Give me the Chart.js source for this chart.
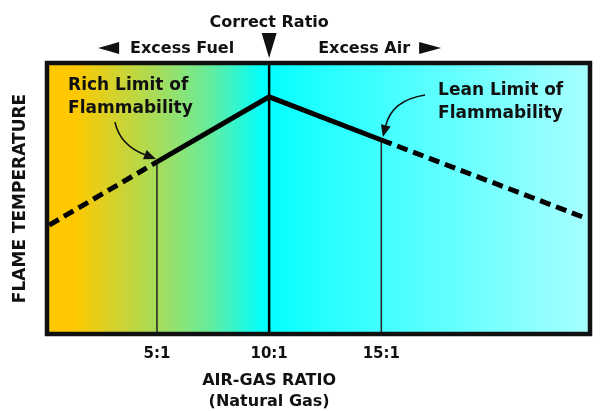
<!DOCTYPE html>
<html>
<head>
<meta charset="utf-8">
<script src="https://cdn.jsdelivr.net/npm/chart.js@4.4.1/dist/chart.umd.min.js"></script>
<style>
  html, body { margin: 0; padding: 0; background: #fff; }
  #wrap { width: 601px; height: 411px; }
</style>
</head>
<body>
<div id="wrap"><canvas id="flameChart"></canvas></div>
<script>
Chart.defaults.animation = false;
Chart.defaults.font.family = "'DejaVu Sans', sans-serif";

// ---- data ----
const ratioTicks = [5, 10, 15];
const curveX = [0.2, 5, 10, 15, 24.1];        // air-gas ratio
const curveY = [40.2, 63.5, 87.5, 71.6, 42.8]; // flame temperature (relative)
const dashedSegments = [0, 3];                 // segments outside flammability limits
const correctRatio = 10;

const curvePoints = curveX.map((x, i) => ({ x: x, y: curveY[i] }));

// vertical drop lines at the limits and the correct ratio
function dropAt(x, top) {
  return [{ x: x, y: 0 }, { x: x, y: top }];
}

const FONT = "bold 16px 'DejaVu Sans', sans-serif";

// annotation positions in data units
const notes = [
  { lines: ["Rich Limit of", "Flammability"], x: 1.04, y: 90.0,
    arrow: { from: [3.13, 78.2], ctrl: [3.35, 69.7], to: [4.96, 64.6] } },
  { lines: ["Lean Limit of", "Flammability"], x: 17.53, y: 88.2,
    arrow: { from: [16.95, 88.2], ctrl: [15.48, 86.3], to: [15.07, 72.7] } }
];

// ================= background gradient =================
const backdrop = {
  id: "backdrop",
  beforeDatasetsDraw(chart) {
    const { ctx, chartArea: a } = chart;
    const g = ctx.createLinearGradient(a.left, 0, a.right, 0);
    g.addColorStop(0, "#ffc800");
    g.addColorStop(0.05, "#ffc800");
    g.addColorStop(0.2, "#a8dc58");
    g.addColorStop(0.29, "#6eea94");
    g.addColorStop(0.4, "#00ffff");
    g.addColorStop(0.52, "#28ffff");
    g.addColorStop(1, "#a8ffff");
    ctx.save();
    ctx.fillStyle = g;
    ctx.fillRect(a.left, a.top, a.right - a.left, a.bottom - a.top);
    ctx.restore();
  }
};

// ================= frame, labels, arrows =================
function triangle(ctx, pts) {
  ctx.beginPath();
  ctx.moveTo(pts[0][0], pts[0][1]);
  ctx.lineTo(pts[1][0], pts[1][1]);
  ctx.lineTo(pts[2][0], pts[2][1]);
  ctx.closePath();
  ctx.fill();
}

const decorations = {
  id: "decorations",
  afterDraw(chart) {
    const { ctx, chartArea: a, scales: { x, y } } = chart;
    ctx.save();

    // frame
    ctx.strokeStyle = "#111";
    ctx.lineWidth = 4.5;
    ctx.strokeRect(a.left, a.top, a.right - a.left, a.bottom - a.top);

    ctx.fillStyle = "#111";
    ctx.font = FONT;
    const cx = x.getPixelForValue(correctRatio);

    // top labels
    ctx.textAlign = "center";
    ctx.textBaseline = "alphabetic";
    ctx.fillText("Correct Ratio", cx, a.top - 36);
    triangle(ctx, [[cx - 7.5, a.top - 30], [cx + 7.5, a.top - 30], [cx, a.top - 5]]);

    ctx.textAlign = "right";
    ctx.fillText("Excess Fuel", cx - 35, a.top - 10);
    triangle(ctx, [[cx - 150, a.top - 21], [cx - 150, a.top - 9], [cx - 171, a.top - 15]]);

    ctx.textAlign = "left";
    ctx.fillText("Excess Air", cx + 49, a.top - 10);
    triangle(ctx, [[cx + 150, a.top - 21], [cx + 150, a.top - 9], [cx + 172, a.top - 15]]);

    // axis title under the correct ratio
    ctx.textAlign = "center";
    ctx.fillText("AIR-GAS RATIO", cx, a.bottom + 51);
    ctx.fillText("(Natural Gas)", cx, a.bottom + 72);

    // annotations
    ctx.font = "bold 17px 'DejaVu Sans', sans-serif";
    ctx.textAlign = "left";
    notes.forEach(n => {
      const px = x.getPixelForValue(n.x);
      const py = y.getPixelForValue(n.y);
      n.lines.forEach((t, i) => ctx.fillText(t, px, py + i * 23));

      const s = [x.getPixelForValue(n.arrow.from[0]), y.getPixelForValue(n.arrow.from[1])];
      const c = [x.getPixelForValue(n.arrow.ctrl[0]), y.getPixelForValue(n.arrow.ctrl[1])];
      const e = [x.getPixelForValue(n.arrow.to[0]), y.getPixelForValue(n.arrow.to[1])];
      const ang = Math.atan2(e[1] - c[1], e[0] - c[0]);
      const len = 12, half = 5;
      const bx = e[0] - len * Math.cos(ang), by = e[1] - len * Math.sin(ang);

      ctx.lineWidth = 1.6;
      ctx.beginPath();
      ctx.moveTo(s[0], s[1]);
      ctx.quadraticCurveTo(c[0], c[1], bx, by);
      ctx.stroke();
      triangle(ctx, [e,
        [bx + half * Math.sin(ang), by - half * Math.cos(ang)],
        [bx - half * Math.sin(ang), by + half * Math.cos(ang)]]);
    });

    ctx.restore();
  }
};

// ================= Line Chart =================
const ctxEl = document.getElementById("flameChart");

new Chart(ctxEl, {
  type: "line",
  data: {
    datasets: [
      {
        data: curvePoints,
        borderColor: "#000",
        borderWidth: 5,
        pointRadius: 0,
        tension: 0,
        borderCapStyle: "butt",
        segment: {
          borderDash: c => dashedSegments.includes(c.p0DataIndex) ? [11, 6] : undefined
        }
      },
      { data: dropAt(curveX[1], curveY[1]), borderColor: "#222", borderWidth: 1.5, pointRadius: 0 },
      { data: dropAt(curveX[3], curveY[3]), borderColor: "#222", borderWidth: 1.5, pointRadius: 0 },
      { data: dropAt(correctRatio, 100), borderColor: "#000", borderWidth: 2.5, pointRadius: 0 }
    ]
  },
  options: {
    responsive: true,
    maintainAspectRatio: false,
    animation: false,
    layout: { padding: { top: 63, right: 11, left: 0, bottom: 0 } },
    plugins: {
      legend: { display: false },
      tooltip: { enabled: false }
    },
    scales: {
      x: {
        type: "linear",
        min: 0.1,
        max: 24.3,
        grid: { display: false, drawTicks: false },
        border: { display: false },
        afterBuildTicks: s => { s.ticks = ratioTicks.map(v => ({ value: v })); },
        afterFit: s => { s.height = 77; },
        ticks: {
          padding: 11,
          color: "#111",
          font: { size: 15, weight: "bold" },
          callback: v => v + ":1"
        }
      },
      y: {
        min: 0,
        max: 100,
        grid: { display: false, drawTicks: false },
        border: { display: false },
        ticks: { display: false },
        afterFit: s => { s.width = 47; },
        title: {
          display: true,
          text: "FLAME TEMPERATURE",
          color: "#111",
          padding: { top: 10 },
          font: { size: 17, weight: "bold" }
        }
      }
    }
  },
  plugins: [backdrop, decorations]
});
</script>
</body>
</html>
